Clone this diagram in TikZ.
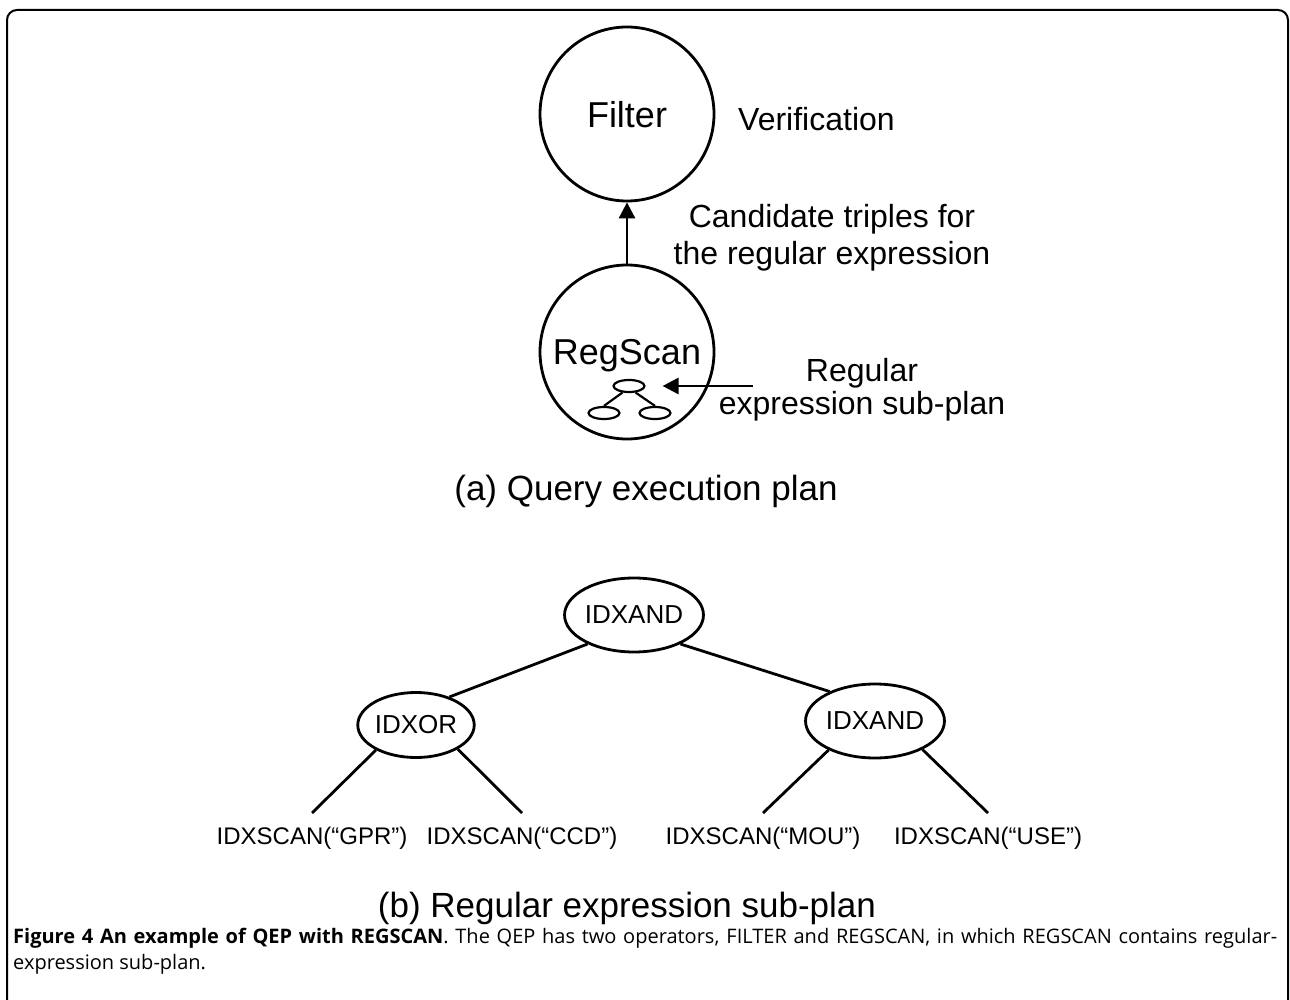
\documentclass[tikz,border=0pt]{standalone}
\usepackage{fontspec}
\setmainfont{Liberation Sans}
\newfontfamily\capfont{Open Sans}
\usetikzlibrary{shapes.geometric,arrows.meta}

\begin{document}
\begin{tikzpicture}[x=1pt,y=-1pt,
    opcircle/.style={draw, circle, line width=2.8pt, minimum size=174pt, inner sep=0pt, text depth=0pt, font=\fontsize{36}{40}\selectfont},
    subop/.style={draw, ellipse, line width=2.2pt, minimum width=31pt, minimum height=12pt, inner sep=0pt},
    treenode/.style={draw, ellipse, line width=2.8pt, inner sep=0pt, minimum width=121pt, minimum height=74pt, font=\fontsize{26}{30}\selectfont},
    leaf/.style={inner xsep=0pt, inner ysep=14pt, font=\fontsize{24}{28}\selectfont},
    note/.style={inner sep=0pt, align=center, font=\fontsize{32}{37}\selectfont},
    title/.style={inner sep=0pt, font=\fontsize{35}{40}\selectfont},
    flow/.style={-{Triangle[length=16pt,width=16pt]}, line width=2.8pt},
    link/.style={line width=2.8pt}]

    % Fix the page size
    \useasboundingbox (0,0) rectangle (1290,1000);

    % Draw the frame round the figure
    \draw[line width=2pt, rounded corners=10pt] (7,1010) -- (7,10) -- (1288,10) -- (1288,1010);

    % (a) Query execution plan
    \node[opcircle] (filter) at (627,114) {Filter};
    \node[opcircle] (regscan) at (627,352) {RegScan};
    \draw[flow] (regscan) -- (filter);

    % Small sub-plan inside RegScan
    \node[subop] (subtop) at (629,386) {};
    \node[subop] (subleft) at (604,413) {};
    \node[subop] (subright) at (655,413) {};
    \draw[line width=2.2pt] (subtop.225) -- (subleft.north);
    \draw[line width=2.2pt] (subtop.315) -- (subright.north);
    \coordinate (subtail) at (753,386);
    \draw[flow, shorten >=17pt] (subtail) -- (subtop);

    % Labels of plan (a)
    \node[note, anchor=base west] (verif) at (738,131) {Verification};
    \node[note] (cand) at (832,238) {Candidate triples for\\the regular expression};
    \node[note, font=\fontsize{32}{33}\selectfont] (subnote) at (862,390) {Regular\\expression sub-plan};
    \node[title, anchor=base] (titlea) at (646,500) {(a) Query execution plan};

    % (b) Regular expression sub-plan
    \node[treenode] (topand) at (634,615) {IDXAND};
    \node[treenode, minimum width=105pt, minimum height=65pt] (idxor) at (416,725) {IDXOR};
    \node[treenode] (rightand) at (875,721) {IDXAND};

    % Leaves of the sub-plan
    \node[leaf, anchor=north] (gpr) at (312,813) {IDXSCAN(“GPR”)};
    \node[leaf, anchor=north] (ccd) at (522,813) {IDXSCAN(“CCD”)};
    \node[leaf, anchor=north] (mou) at (763,813) {IDXSCAN(“MOU”)};
    \node[leaf, anchor=north] (use) at (988,813) {IDXSCAN(“USE”)};

    % Edges of the sub-plan
    \draw[link] (topand.212) -- (idxor.40);
    \draw[link] (topand.328) -- (rightand.147);
    \draw[link] (idxor.212) -- (gpr.north);
    \draw[link] (idxor.330) -- (ccd.north);
    \draw[link] (rightand.212) -- (mou.north);
    \draw[link] (rightand.329) -- (use.north);

    \node[title, anchor=base] (titleb) at (627,917) {(b) Regular expression sub-plan};

    % Caption
    \node[anchor=north west, text width=1264pt, align=justify, inner sep=0pt, font=\capfont\fontsize{20}{26}\selectfont] (caption) at (13,928)
        {\textbf{Figure 4 An example of QEP with REGSCAN}. The QEP has two operators, FILTER and REGSCAN, in which REGSCAN contains regular-\linebreak expression sub-plan.};

\end{tikzpicture}
\end{document}
